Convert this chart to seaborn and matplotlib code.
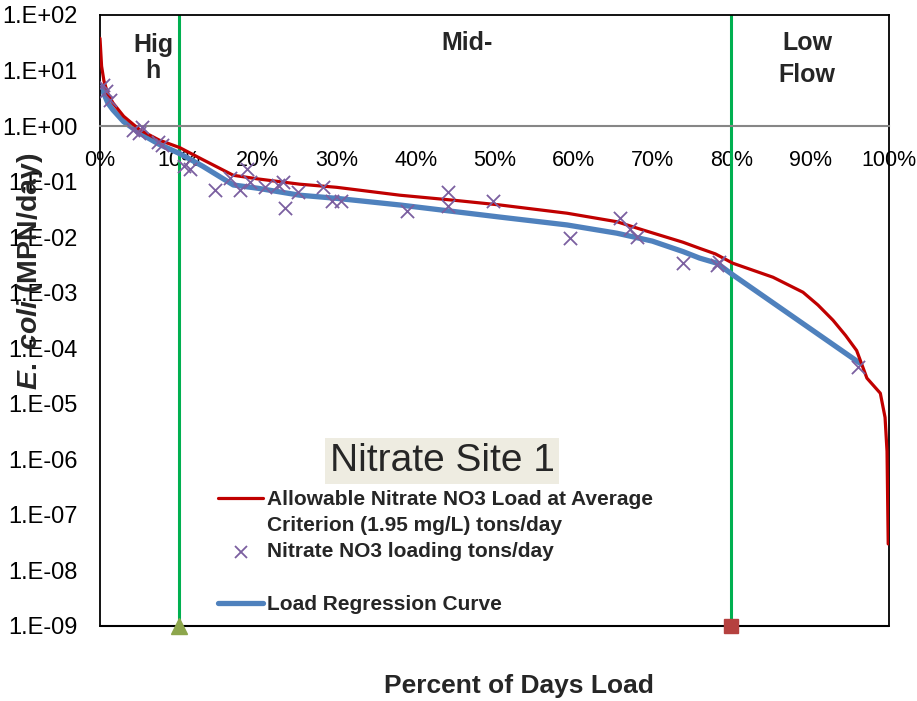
import numpy as np
import pandas as pd
import matplotlib
matplotlib.use("Agg")
import matplotlib.pyplot as plt
from matplotlib.lines import Line2D
import seaborn as sns

# ---- data -------------------------------------------------------------
# Allowable load duration curve (percent of days, tons/day)
allow_pct = [0.0, 0.2, 0.5, 1.0, 1.65, 3.0, 5.07, 7.5, 10.1, 13.0, 16.9, 20.0,
             25.3, 30.0, 38.0, 45.0, 50.7, 59.2, 65.5, 68.8, 73.9, 76.0, 78.0,
             80.2, 85.3, 89.1, 91.0, 92.9, 94.5, 95.9, 97.2, 98.9, 99.5, 99.75, 99.9]
allow_load = [38, 12, 6.5, 3.8, 2.6, 1.5, 0.85, 0.56, 0.41, 0.25, 0.13, 0.112,
              0.09, 0.079, 0.057, 0.046, 0.038, 0.027, 0.019, 0.0135, 0.0081, 0.0063, 0.0050,
              0.0034, 0.0019, 0.00102, 0.0006, 3.2e-4, 1.7e-4, 9.1e-5, 2.9e-5, 1.55e-5, 5.7e-6, 1.4e-6, 3e-8]

# Load regression curve
reg_pct = [0.2, 0.5, 1.0, 1.65, 3.0, 5.07, 7.5, 10.1, 13.0, 16.9, 20.0, 25.3,
           30.0, 38.0, 50.7, 59.2, 65.5, 70.0, 73.9, 76.0, 78.2, 80.2, 96.3]
reg_load = [5.1, 3.8, 2.6, 1.95, 1.2, 0.74, 0.47, 0.32, 0.19, 0.087, 0.076, 0.057,
            0.05, 0.038, 0.023, 0.0166, 0.0118, 0.0085, 0.0055, 0.0042, 0.0034, 0.0021, 5.4e-5]

# Observed nitrate loadings
obs_pct = [0.42, 0.8, 1.27, 4.2, 4.9, 5.3, 7.4, 7.8, 10.6, 11.4, 14.6, 16.5, 17.7,
           18.6, 19.0, 20.9, 22.6, 23.2, 23.4, 25.1, 28.3, 29.4, 30.6, 38.9, 44.1,
           44.1, 49.8, 59.6, 65.9, 67.2, 68.0, 73.9, 78.2, 78.4, 96.1]
obs_load = [5.5, 4.3, 2.9, 0.85, 0.74, 0.95, 0.52, 0.46, 0.19, 0.17, 0.07, 0.114, 0.07,
            0.17, 0.097, 0.081, 0.086, 0.097, 0.033, 0.066, 0.081, 0.044, 0.044, 0.029, 0.066,
            0.037, 0.044, 0.0095, 0.022, 0.0141, 0.0099, 0.0034, 0.0032, 0.0036, 4.6e-5]

x_ticks = [0, 10, 20, 30, 40, 50, 60, 70, 80, 90, 100]
x_tick_labels = ["0%", "10%", "20%", "30%", "40%", "50%", "60%", "70%", "80%", "90%", "100%"]
y_ticks = [1e2, 1e1, 1e0, 1e-1, 1e-2, 1e-3, 1e-4, 1e-5, 1e-6, 1e-7, 1e-8, 1e-9]
y_tick_labels = ["1.E+02", "1.E+01", "1.E+00", "1.E-01", "1.E-02", "1.E-03",
                 "1.E-04", "1.E-05", "1.E-06", "1.E-07", "1.E-08", "1.E-09"]
zone_bounds = [10, 80]

allow_df = pd.DataFrame({"pct": allow_pct, "load": allow_load})
reg_df = pd.DataFrame({"pct": reg_pct, "load": reg_load})
obs_df = pd.DataFrame({"pct": obs_pct, "load": obs_load})

# ---- style ------------------------------------------------------------
sns.set_theme(style="white")
plt.rcParams["font.family"] = ["Liberation Sans", "DejaVu Sans"]
plt.rcParams["mathtext.fontset"] = "custom"
plt.rcParams["mathtext.it"] = "Liberation Sans:italic:bold"
plt.rcParams["mathtext.rm"] = "Liberation Sans:bold"

RED = "#C00000"
BLUE = "#4F81BD"
PURPLE = "#7B5FA0"
GREEN = "#00B050"

W, H = 917, 701
fig = plt.figure(figsize=(W / 100, H / 100), dpi=100)
ax = fig.add_axes([100 / W, 1 - 626 / H, 789 / W, 611 / H])

def fx(px):
    return px / W

def fy(py):
    return 1 - py / H

# zone boundaries
for b in zone_bounds:
    ax.axvline(b, color=GREEN, lw=2.2, zorder=1)

sns.lineplot(data=allow_df, x="pct", y="load", ax=ax, color=RED, lw=2.3,
             sort=False, zorder=3, legend=False)
sns.lineplot(data=reg_df, x="pct", y="load", ax=ax, color=BLUE, lw=3.8,
             sort=False, zorder=2, legend=False)
sns.scatterplot(data=obs_df, x="pct", y="load", ax=ax, marker="x", s=90,
                color=PURPLE, linewidth=1.3, zorder=4, legend=False)

# boundary markers on the bottom edge
ax.plot([zone_bounds[0]], [1e-9], marker="^", color="#8DA64C", ms=11,
        clip_on=False, zorder=6)
ax.plot([zone_bounds[1]], [1e-9], marker="s", color="#B5413F", ms=10,
        clip_on=False, zorder=6)

ax.set_yscale("log")
ax.set_xlim(0, 100)
ax.set_ylim(1e-9, 1e2)

# x axis crosses at 1.0 (set before tick styling, since it resets ticks)
ax.spines["bottom"].set_position(("data", 1.0))
ax.spines["bottom"].set_color("#868686")
ax.spines["bottom"].set_linewidth(1.5)
for s in ["left", "top", "right"]:
    ax.spines[s].set_color("black")
    ax.spines[s].set_linewidth(1.3)
ax.add_line(Line2D([0, 1], [0, 0], transform=ax.transAxes, color="black",
                   lw=1.5, clip_on=False, zorder=5))

ax.set_xticks(x_ticks)
ax.set_xticklabels(x_tick_labels, fontsize=15.5)
ax.set_yticks(y_ticks)
ax.set_yticklabels(y_tick_labels, fontsize=17)
ax.yaxis.set_minor_locator(matplotlib.ticker.NullLocator())
ax.tick_params(axis="y", length=0, pad=16, colors="black")
ax.tick_params(axis="x", length=6, width=1.2, pad=11, color="#868686",
               direction="out", labelcolor="black")
ax.set_xlabel("")
ax.set_ylabel("")

# flow zone labels
zone_kw = dict(fontsize=18, fontweight="bold", ha="center", va="baseline")
fig.text(fx(153), fy(52), "Hig", **zone_kw)
fig.text(fx(153), fy(78), "h", **zone_kw)
fig.text(fx(467), fy(50), "Mid-", **zone_kw)
fig.text(fx(807), fy(50), "Low", **zone_kw)
fig.text(fx(807), fy(82), "Flow", **zone_kw)

# title box
fig.text(fx(442), fy(461), "Nitrate Site 1", fontsize=28, ha="center", va="center",
         bbox=dict(boxstyle="square,pad=0.12", facecolor="#EEECE1", edgecolor="none"))

# legend
leg_kw = dict(fontsize=15, fontweight="bold", ha="left", va="baseline")
fig.add_artist(Line2D([fx(218), fx(263)], [fy(498), fy(498)], color=RED, lw=2.3))
fig.text(fx(267), fy(505), "Allowable Nitrate NO3 Load at Average", **leg_kw)
fig.text(fx(267), fy(531), "Criterion (1.95 mg/L) tons/day", **leg_kw)
fig.add_artist(Line2D([fx(241)], [fy(552)], color=PURPLE, marker="x", ms=9, mew=1.3, lw=0))
fig.text(fx(267), fy(557), "Nitrate NO3 loading tons/day", **leg_kw)
fig.add_artist(Line2D([fx(218), fx(263)], [fy(603), fy(603)], color=BLUE, lw=3.8))
fig.text(fx(267), fy(610), "Load Regression Curve", **leg_kw)

# axis titles
fig.text(fx(519), fy(686), "Percent of Days Load", fontsize=19, fontweight="bold",
         ha="center", va="center")
fig.text(fx(30), fy(271), r"$\mathit{E.\ coli}$ (MPN/day)", fontsize=20.5,
         fontweight="bold", rotation=90, ha="center", va="center")

fig.savefig("out.png", dpi=100, facecolor="white")
